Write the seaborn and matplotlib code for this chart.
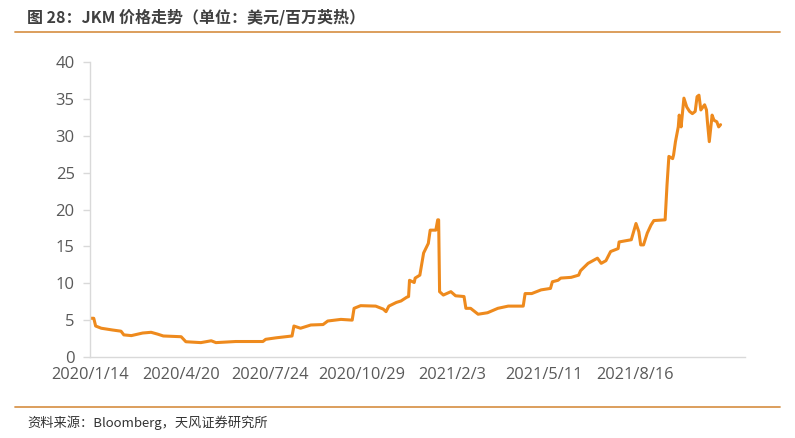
import matplotlib
matplotlib.use("Agg")
import matplotlib.pyplot as plt
import seaborn as sns
import pandas as pd

dates = [
    "2020-01-14", "2020-01-18", "2020-01-20", "2020-01-26", "2020-02-07", "2020-02-16",
    "2020-02-19", "2020-02-27", "2020-03-10", "2020-03-19", "2020-03-26", "2020-04-01",
    "2020-04-20", "2020-04-25", "2020-05-11", "2020-05-22", "2020-05-27", "2020-06-17",
    "2020-07-05", "2020-07-16", "2020-07-19", "2020-07-30", "2020-08-16", "2020-08-18",
    "2020-08-25", "2020-09-05", "2020-09-18", "2020-09-23", "2020-10-07", "2020-10-19",
    "2020-10-21", "2020-10-28", "2020-11-13", "2020-11-21", "2020-11-24", "2020-11-27",
    "2020-12-05", "2020-12-10", "2020-12-16", "2020-12-18", "2020-12-19", "2020-12-24",
    "2020-12-25", "2020-12-30", "2021-01-03", "2021-01-08", "2021-01-10", "2021-01-16",
    "2021-01-18", "2021-01-19", "2021-01-20", "2021-01-24", "2021-02-01", "2021-02-06",
    "2021-02-15", "2021-02-17", "2021-02-22", "2021-03-02", "2021-03-12", "2021-03-23",
    "2021-04-03", "2021-04-19", "2021-04-21", "2021-04-28", "2021-05-08", "2021-05-18",
    "2021-05-20", "2021-05-26", "2021-05-29", "2021-06-09", "2021-06-17", "2021-06-19",
    "2021-06-27", "2021-07-07", "2021-07-11", "2021-07-16", "2021-07-21", "2021-07-29",
    "2021-07-30", "2021-08-12", "2021-08-17", "2021-08-20", "2021-08-22", "2021-08-25",
    "2021-08-29", "2021-09-02", "2021-09-05", "2021-09-17", "2021-09-19", "2021-09-21",
    "2021-09-25", "2021-09-26", "2021-09-28", "2021-10-01", "2021-10-02", "2021-10-04",
    "2021-10-07", "2021-10-10", "2021-10-13", "2021-10-16", "2021-10-19", "2021-10-21",
    "2021-10-23", "2021-10-25", "2021-10-29", "2021-10-31", "2021-11-01", "2021-11-03",
    "2021-11-06", "2021-11-08", "2021-11-11", "2021-11-13", "2021-11-15",
]
prices = [
    5.25, 5.25, 4.2, 3.9, 3.66, 3.5,
    3.0, 2.9, 3.25, 3.35, 3.1, 2.85,
    2.75, 2.07, 1.95, 2.2, 1.95, 2.1,
    2.1, 2.1, 2.4, 2.6, 2.85, 4.2,
    3.9, 4.34, 4.4, 4.88, 5.1, 5.0,
    6.6, 6.96, 6.9, 6.5, 6.15, 6.9,
    7.4, 7.6, 8.1, 8.2, 10.4, 10.1,
    10.7, 11.1, 14.1, 15.4, 17.2, 17.2,
    18.6, 18.6, 8.86, 8.4, 8.86, 8.3,
    8.2, 6.6, 6.6, 5.8, 6.0, 6.6,
    6.9, 6.9, 8.6, 8.6, 9.1, 9.3,
    10.2, 10.4, 10.7, 10.8, 11.1, 11.7,
    12.7, 13.4, 12.7, 13.06, 14.3, 14.7,
    15.6, 15.9, 18.1, 17.0, 15.2, 15.2,
    16.8, 17.9, 18.5, 18.6, 23.3, 27.2,
    26.9, 27.4, 29.2, 31.2, 32.8, 31.2,
    35.1, 33.9, 33.3, 33.0, 33.3, 35.3,
    35.5, 33.5, 34.2, 33.5, 31.9, 29.2,
    32.8, 32.1, 31.9, 31.2, 31.5,
]
tick_dates = ["2020-01-14", "2020-04-20", "2020-07-24", "2020-10-29",
              "2021-02-03", "2021-05-11", "2021-08-16"]
tick_labels = ["2020/1/14", "2020/4/20", "2020/7/24", "2020/10/29",
               "2021/2/3", "2021/5/11", "2021/8/16"]
y_ticks = [0, 5, 10, 15, 20, 25, 30, 35, 40]

title = "图 28：JKM 价格走势（单位：美元/百万英热）"
source = "资料来源：Bloomberg，天风证券研究所"

sns.set_theme(style="white")
plt.rcParams["font.family"] = ["Noto Sans CJK SC", "DejaVu Sans"]

df = pd.DataFrame({"date": pd.to_datetime(dates), "price": prices})

fig = plt.figure(figsize=(7.95, 4.38), dpi=100)
fig.patch.set_facecolor("white")
ax = fig.add_axes([90 / 795, 81 / 438, 655 / 795, 295 / 438])

sns.lineplot(data=df, x="date", y="price", ax=ax, color="#EE8A1D",
             linewidth=2.2, legend=False)

ax.set_xlim(pd.Timestamp("2020-01-14"), pd.Timestamp("2021-12-11"))
ax.set_ylim(0, 40)
ax.set_yticks(y_ticks)
ax.set_yticklabels([str(v) for v in y_ticks])
ax.set_xticks(pd.to_datetime(tick_dates))
ax.set_xticklabels(tick_labels)
ax.set_xlabel("")
ax.set_ylabel("")

for s in ["top", "right"]:
    ax.spines[s].set_visible(False)
for s in ["left", "bottom"]:
    ax.spines[s].set_color("#D9D9D9")
    ax.spines[s].set_linewidth(1.0)

ax.tick_params(axis="y", which="both", left=True, length=5, width=1.0,
               color="#D9D9D9", pad=6, labelsize=12, labelcolor="#595959",
               labelfontfamily="Open Sans")
ax.tick_params(axis="x", which="both", bottom=False, length=0, pad=7,
               labelsize=11.8, labelcolor="#595959",
               labelfontfamily="Open Sans")

# Title, rules and source
fig.text(27 / 795, 1 - 17 / 438, title, fontsize=11.5, fontweight="bold",
         color="#404040", ha="left", va="center")
fig.add_artist(plt.Line2D([15 / 795, 780 / 795], [1 - 32 / 438, 1 - 32 / 438],
                          color="#D9964F", linewidth=1.3))
fig.add_artist(plt.Line2D([15 / 795, 780 / 795], [1 - 407 / 438, 1 - 407 / 438],
                          color="#D9964F", linewidth=1.3))
fig.text(27 / 795, 1 - 423 / 438, source, fontsize=9.5, color="#333333",
         ha="left", va="center")

fig.savefig("out.png", dpi=100, facecolor="white")
